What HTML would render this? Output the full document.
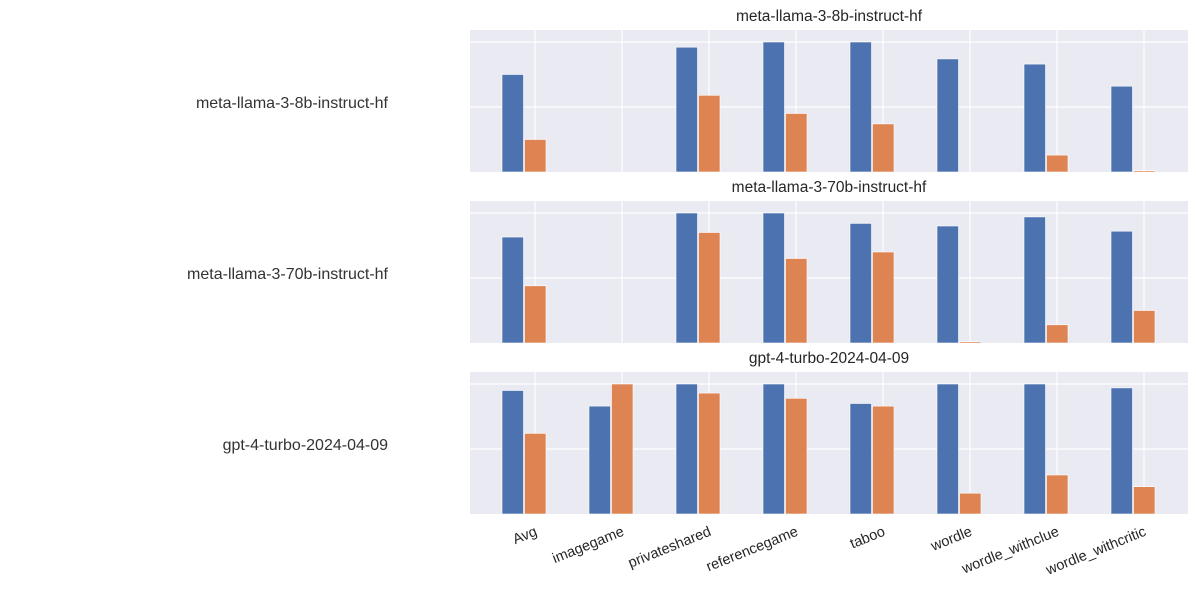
<!DOCTYPE html>
<html><head><meta charset="utf-8"><style>
body{margin:0;background:#fff;}
svg{display:block;font-family:"Liberation Sans",Arial,sans-serif;}
</style></head><body>
<svg id="chart" width="1196" height="595" viewBox="0 0 1196 595"></svg>
<script>
const categories = ["Avg","imagegame","privateshared","referencegame","taboo","wordle","wordle_withclue","wordle_withcritic"];
const models = ["meta-llama-3-8b-instruct-hf","meta-llama-3-70b-instruct-hf","gpt-4-turbo-2024-04-09"];
const blueValues = [
  [0.75,0,0.96,1.0,1.0,0.87,0.83,0.66],
  [0.815,0,1.0,1.0,0.92,0.90,0.97,0.86],
  [0.95,0.83,1.0,1.0,0.85,1.0,1.0,0.97]
];
const orangeValues = [
  [0.25,0,0.59,0.45,0.37,0,0.13,0.01],
  [0.44,0,0.85,0.65,0.70,0.01,0.14,0.25],
  [0.62,1.0,0.93,0.89,0.83,0.16,0.30,0.21]
];
const yTicks = [0.5,1.0];

const NS="http://www.w3.org/2000/svg";
const svg=document.getElementById('chart');
function mk(tag,attrs,parent){const e=document.createElementNS(NS,tag);for(const k in attrs)e.setAttribute(k,attrs[k]);(parent||svg).appendChild(e);return e;}
const X0=470,X1=1188,PH=142,PX=130;
const panelTops=[30,201,372];
function xc(i){return 524+87*i;}
models.forEach((m,p)=>{
  const top=panelTops[p],bot=top+PH;
  const y=v=>bot-v*PX;
  const g=mk('g',{});
  
  
  const bg=mk('rect',{x:X0,y:top,width:X1-X0,height:PH,fill:'#eaeaf2'},g);
  
  
  yTicks.forEach(t=>{const l=mk('line',{x1:X0,x2:X1,y1:y(t),y2:y(t),stroke:'#fff','stroke-width':1.2},g);
    
    });
  categories.forEach((c,i)=>{const l=mk('line',{x1:xc(i)+11,x2:xc(i)+11,y1:top,y2:bot,stroke:'#fff','stroke-width':1.2},g);
    
    });
  categories.forEach((c,i)=>{
    const bv=blueValues[p][i],ov=orangeValues[p][i];
    const b=mk('rect',{x:xc(i)-22,y:y(bv),width:21.5,height:bv*PX,fill:'#4c72b0',stroke:'#fff','stroke-width':0.6},g);
    
    
    const o=mk('rect',{x:xc(i)+0.5,y:y(ov),width:21.5,height:ov*PX,fill:'#dd8452',stroke:'#fff','stroke-width':0.6},g);
    
    
  });
  const t=mk('text',{x:829,y:top-9,'text-anchor':'middle','font-size':15.5,fill:'#262626'},g);
  t.textContent=m;
  
  
  const lab=mk('text',{x:388,y:top+78,'text-anchor':'end','font-size':16,fill:'#333'},g);
  lab.textContent=m;
  
  
});
categories.forEach((c,i)=>{
  const tx=xc(i)+14,ty=535;
  const t=mk('text',{x:tx,y:ty,'text-anchor':'end','font-size':14.5,fill:'#262626',transform:'rotate(-22 '+tx+' '+ty+')'});
  t.textContent=c;
  
  
});
</script>
</body></html>
